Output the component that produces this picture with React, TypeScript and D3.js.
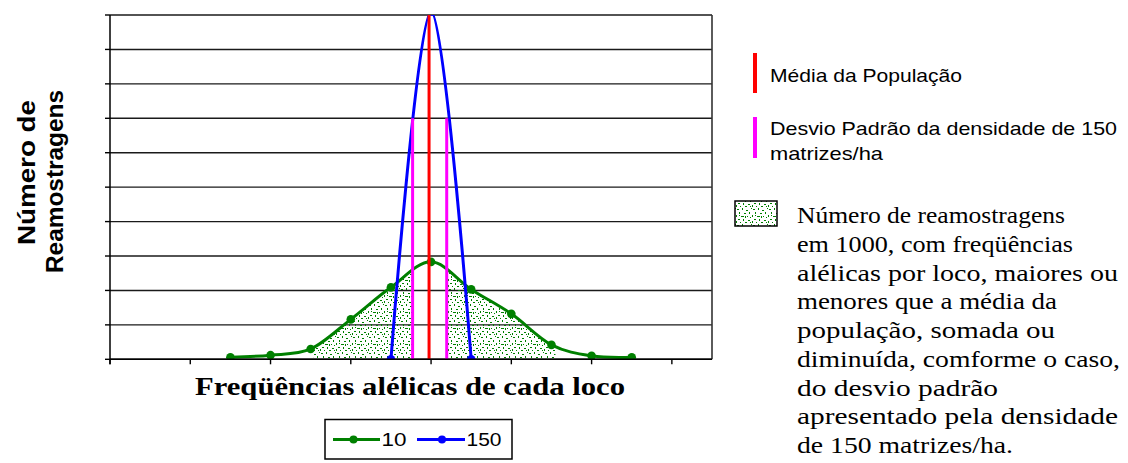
import React from "react";
import * as d3 from "d3";

// ---- data ----
const xValues = [3, 4, 5, 6, 7, 8, 9, 10, 11, 12, 13];
const series10 = [6, 12, 30, 116, 209, 283, 203, 132, 42, 10, 6];
const xValues150 = [7, 8, 9];
const series150 = [0, 1010, 0];
const yTickValues = [0, 100, 200, 300, 400, 500, 600, 700, 800, 900, 1000];
const xTickValues = [0, 2, 4, 6, 8, 10, 12, 14];
const populationMean = 7.95;
const stdDevBounds = [7.54, 8.39];
const stdDevTop = 700;
const shadedRanges = [
  [5.08, 7.54],
  [8.39, 11.1],
];
const seriesNames = ["10", "150"];
const yTitleLines = ["Número de", "Reamostragens"];
const xTitle = "Freqüências alélicas de cada loco";
const legendMean = "Média da População";
const legendSd = ["Desvio Padrão da densidade de 150", "matrizes/ha"];
const legendShade = [
  "Número de reamostragens",
  "em 1000, com freqüências",
  "alélicas por loco, maiores ou",
  "menores que a média da",
  "população, somada ou",
  "diminuída, comforme o caso,",
  "do desvio padrão",
  "apresentado pela densidade",
  "de 150 matrizes/ha.",
];
const legendShadeWidths = [268, 276, 321, 260, 258, 323, 201, 321, 216];

// ---- layout ----
const W = 1128;
const H = 463;
const L = 110;
const R = 712;
const T = 15;
const B = 359.3;
const GREEN = "#008000";
const BLUE = "#0000FF";
const RED = "#FF0000";
const PINK = "#FF00FF";
const SANS = "'Liberation Sans', Arial, sans-serif";
const SERIF = "'Liberation Serif', 'Times New Roman', serif";

const x = d3.scaleLinear().domain([0, 15]).range([L, R]);
const y = d3.scaleLinear().domain([0, 1000]).range([B, T]);

const smooth = d3.curveCardinal.tension(0);
const pts10: [number, number][] = xValues.map((v, i) => [v, series10[i]]);
const pts150: [number, number][] = xValues150.map((v, i) => [v, series150[i]]);
const lineGen = d3
  .line<[number, number]>()
  .x((d) => x(d[0]))
  .y((d) => y(d[1]))
  .curve(smooth);
const areaGen = d3
  .area<[number, number]>()
  .x((d) => x(d[0]))
  .y0(y(0))
  .y1((d) => y(d[1]))
  .curve(smooth);

// confetti pattern cells (style only)
const dots = [
  [1, 1, 2, 1], [6, 0, 1, 2], [10, 2, 2, 1], [3, 4, 1, 2], [8, 5, 2, 1],
  [13, 4, 1, 2], [0, 7, 1, 2], [5, 8, 3, 1], [11, 8, 1, 1], [2, 11, 2, 1],
  [7, 11, 1, 2], [12, 12, 2, 1], [4, 14, 1, 1], [9, 14, 2, 1], [14, 9, 1, 1],
  [15, 0, 1, 1], [3, 7, 1, 1], [9, 8, 1, 2], [14, 14, 1, 1], [0, 13, 1, 2],
];

export default function App() {
  return (
    <svg
      width={W}
      height={H}
      style={{ position: "absolute", left: 0, top: 0, background: "#fff" }}
    >
      <defs>
        <pattern id="confetti" width={16} height={16} patternUnits="userSpaceOnUse">
          {dots.map((d, i) => (
            <rect key={i} x={d[0]} y={d[1]} width={d[2]} height={d[3]} fill={GREEN} />
          ))}
        </pattern>
        <clipPath id="plotClip">
          <rect x={L} y={T} width={R - L} height={B - T} />
        </clipPath>
        <clipPath id="shadeClip">
          {shadedRanges.map((r, i) => (
            <rect key={i} x={x(r[0])} y={T} width={x(r[1]) - x(r[0])} height={B - T} />
          ))}
        </clipPath>
      </defs>
      <rect x={0} y={0} width={W} height={H} fill="#fff" />

      {/* gridlines */}
      {yTickValues.map((v) => (
        <line key={v} x1={L} x2={R} y1={y(v)} y2={y(v)} stroke="#1a1a1a" strokeWidth={1.4} />
      ))}
      {/* right border */}
      <line x1={R} x2={R} y1={T} y2={B} stroke="#333" strokeWidth={1.6} />

      {/* shaded area */}
      <path d={areaGen(pts10) || ""} fill="url(#confetti)" clipPath="url(#shadeClip)" />

      <g clipPath="url(#plotClip)">
        <path d={lineGen(pts10) || ""} fill="none" stroke={GREEN} strokeWidth={3} />
        {pts10.map((p, i) => (
          <circle key={i} cx={x(p[0])} cy={y(p[1])} r={4.3} fill={GREEN} />
        ))}
        <path d={lineGen(pts150) || ""} fill="none" stroke={BLUE} strokeWidth={3} />
        {pts150.map((p, i) => (
          <circle key={i} cx={x(p[0])} cy={y(p[1])} r={4.3} fill={BLUE} />
        ))}
      </g>

      {/* std dev & mean */}
      {stdDevBounds.map((v, i) => (
        <line key={i} x1={x(v)} x2={x(v)} y1={y(0)} y2={y(stdDevTop)} stroke={PINK} strokeWidth={3} />
      ))}
      <line x1={x(populationMean)} x2={x(populationMean)} y1={y(0)} y2={T} stroke={RED} strokeWidth={3} />

      {/* axes */}
      <line x1={L} x2={L} y1={T} y2={B + 5} stroke="#000" strokeWidth={1.5} />
      {yTickValues.map((v) => (
        <line key={v} x1={L - 5} x2={L} y1={y(v)} y2={y(v)} stroke="#000" strokeWidth={1.4} />
      ))}
      <line x1={L} x2={R} y1={B} y2={B} stroke="#000" strokeWidth={1.5} />
      {xTickValues.map((v) => (
        <line key={v} x1={x(v)} x2={x(v)} y1={B} y2={B + 5} stroke="#000" strokeWidth={1.4} />
      ))}

      {/* y title */}
      <text
        transform={`translate(35,172.5) rotate(-90)`}
        textAnchor="middle"
        fontFamily={SANS}
        fontWeight="bold"
        fontSize={23}
        textLength={145}
        lengthAdjust="spacingAndGlyphs"
      >
        {yTitleLines[0]}
      </text>
      <text
        transform={`translate(63,181.5) rotate(-90)`}
        textAnchor="middle"
        fontFamily={SANS}
        fontWeight="bold"
        fontSize={23}
        textLength={183}
        lengthAdjust="spacingAndGlyphs"
      >
        {yTitleLines[1]}
      </text>

      {/* x title */}
      <text
        x={195}
        y={395}
        fontFamily={SERIF}
        fontWeight="bold"
        fontSize={26}
        textLength={430}
        lengthAdjust="spacingAndGlyphs"
      >
        {xTitle}
      </text>

      {/* bottom legend */}
      <rect x={325} y={419.5} width={187} height={39.5} fill="#fff" stroke="#000" strokeWidth={1.5} />
      <line x1={333} x2={380} y1={439.5} y2={439.5} stroke={GREEN} strokeWidth={3} />
      <circle cx={353.5} cy={439.5} r={4} fill={GREEN} />
      <text x={381.5} y={446} fontFamily={SANS} fontSize={19} textLength={25} lengthAdjust="spacingAndGlyphs">
        {seriesNames[0]}
      </text>
      <line x1={417} x2={465} y1={439.5} y2={439.5} stroke={BLUE} strokeWidth={3} />
      <circle cx={442} cy={439.5} r={4} fill={BLUE} />
      <text x={466.5} y={446} fontFamily={SANS} fontSize={19} textLength={35} lengthAdjust="spacingAndGlyphs">
        {seriesNames[1]}
      </text>

      {/* right legend */}
      <line x1={755} x2={755} y1={53} y2={93} stroke={RED} strokeWidth={4} />
      <text x={770} y={82} fontFamily={SANS} fontSize={18.5} textLength={192} lengthAdjust="spacingAndGlyphs">
        {legendMean}
      </text>
      <line x1={755} x2={755} y1={117} y2={158} stroke={PINK} strokeWidth={4} />
      <text x={770} y={135} fontFamily={SANS} fontSize={18.5} textLength={347} lengthAdjust="spacingAndGlyphs">
        {legendSd[0]}
      </text>
      <text x={770} y={160} fontFamily={SANS} fontSize={18.5} textLength={113} lengthAdjust="spacingAndGlyphs">
        {legendSd[1]}
      </text>
      <rect x={735} y={201} width={42} height={25} fill="#fff" />
      <rect x={735} y={201} width={42} height={25} fill="url(#confetti)" stroke="#000" strokeWidth={1.5} />
      {legendShade.map((s, i) => (
        <text
          key={i}
          x={797}
          y={223 + i * 28.75}
          fontFamily={SERIF}
          fontSize={24}
          textLength={legendShadeWidths[i]}
          lengthAdjust="spacingAndGlyphs"
        >
          {s}
        </text>
      ))}
    </svg>
  );
}
